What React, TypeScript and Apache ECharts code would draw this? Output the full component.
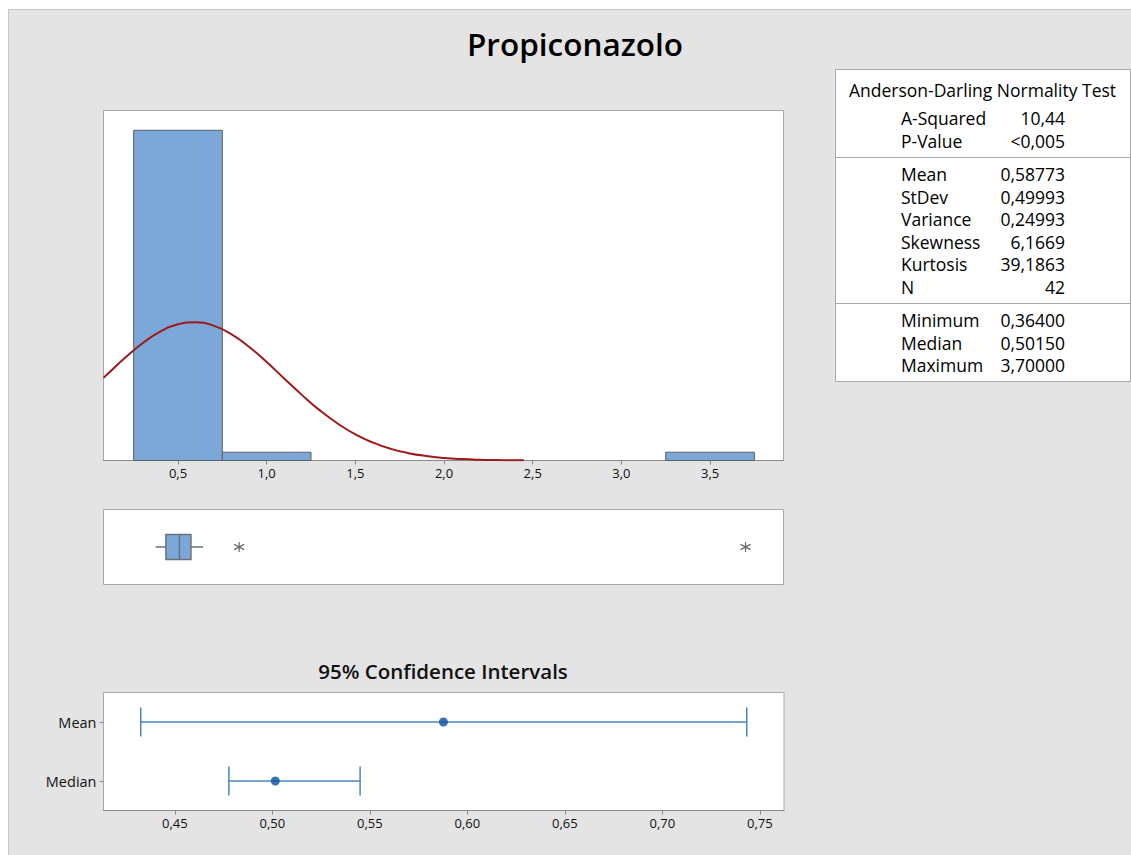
import React, { useEffect, useRef } from "react";
import * as echarts from "echarts";

// ---- data ----
const binStarts = [0.25, 0.75, 3.25];
const binEnds = [0.75, 1.25, 3.75];
const binCounts = [40, 1, 1];

// fitted normal curve (counts scale), read at x positions
const curveX = [0.08, 0.1, 0.2, 0.3, 0.4, 0.5, 0.6, 0.7, 0.8, 0.9, 1.0, 1.1, 1.2, 1.3, 1.4, 1.5, 1.6, 1.7, 1.8, 1.9, 2.0, 2.1, 2.2, 2.3, 2.4, 2.45];
const curveY = [10.01, 10.41, 12.41, 14.2, 15.62, 16.5, 16.75, 16.34, 15.31, 13.79, 11.93, 9.91, 7.92, 6.07, 4.48, 3.17, 2.16, 1.41, 0.89, 0.54, 0.31, 0.17, 0.09, 0.05, 0.02, 0.016];

const histTicks = [0.5, 1.0, 1.5, 2.0, 2.5, 3.0, 3.5];

// boxplot: [whiskerLow, Q1, median, Q3, whiskerHigh]
const boxStats = [0.374, 0.432, 0.508, 0.573, 0.641];
const outliers = [0.845, 3.7];

// confidence intervals
const ciCategories = ["Median", "Mean"];
const ciLower = [0.4777, 0.4325];
const ciUpper = [0.545, 0.7433];
const ciCenter = [0.5015, 0.58773];
const ciTicks = [0.45, 0.5, 0.55, 0.6, 0.65, 0.7, 0.75];

// stats table
const adLabels = ["A-Squared", "P-Value"];
const adValues = ["10,44", "<0,005"];
const momLabels = ["Mean", "StDev", "Variance", "Skewness", "Kurtosis", "N"];
const momValues = ["0,58773", "0,49993", "0,24993", "6,1669", "39,1863", "42"];
const quLabels = ["Minimum", "Median", "Maximum"];
const quValues = ["0,36400", "0,50150", "3,70000"];

const FONT = "'Open Sans', 'Noto Sans', sans-serif";

export default function App() {
  const ref = useRef<HTMLDivElement>(null);
  useEffect(() => {
    if (!ref.current) return;
    const chart = echarts.init(ref.current, undefined, { renderer: "svg" });

    const tableText: any[] = [];
    const addRows = (labels: string[], values: string[], y0: number) => {
      labels.forEach((l, i) => {
        const y = y0 + i * 22.5;
        tableText.push({
          type: "text", x: 901, y, z: 10,
          style: { text: l, fill: "#000", font: `500 17.5px ${FONT}`, textAlign: "left", textVerticalAlign: "middle" },
        });
        tableText.push({
          type: "text", x: 1065, y, z: 10,
          style: { text: values[i], fill: "#000", font: `500 17.5px ${FONT}`, textAlign: "right", textVerticalAlign: "middle" },
        });
      });
    };
    addRows(adLabels, adValues, 118);
    addRows(momLabels, momValues, 174);
    addRows(quLabels, quValues, 320);

    const axisLabelStyle = { color: "#111", fontSize: 13, fontFamily: FONT, fontWeight: 500 };

    chart.setOption({
      animation: false,
      backgroundColor: "#ffffff",
      graphic: [
        { type: "rect", z: -10, shape: { x: 8.5, y: 9.5, width: 1130, height: 850 }, style: { fill: "#e4e4e4", stroke: "#c6c6c6", lineWidth: 1 } },
        { type: "text", x: 575, y: 43, style: { text: "Propiconazolo", fill: "#000", font: `600 31.5px ${FONT}`, textAlign: "center", textVerticalAlign: "middle" } },
        { type: "text", x: 443, y: 671, style: { text: "95% Confidence Intervals", fill: "#111", font: `600 20.5px ${FONT}`, textAlign: "center", textVerticalAlign: "middle" } },
        { type: "rect", z: 5, shape: { x: 835.5, y: 69.5, width: 295, height: 312 }, style: { fill: "#fff", stroke: "#a8a8a8", lineWidth: 1 } },
        { type: "line", z: 6, shape: { x1: 836, y1: 157.5, x2: 1130, y2: 157.5 }, style: { stroke: "#a8a8a8", lineWidth: 1 } },
        { type: "line", z: 6, shape: { x1: 836, y1: 303.5, x2: 1130, y2: 303.5 }, style: { stroke: "#a8a8a8", lineWidth: 1 } },
        { type: "text", x: 982.5, y: 90, z: 10, style: { text: "Anderson-Darling Normality Test", fill: "#000", font: `500 17.5px ${FONT}`, textAlign: "center", textVerticalAlign: "middle" } },
        ...tableText,
      ],
      grid: [
        { left: 103.5, top: 110.5, width: 680, height: 350, show: true, backgroundColor: "#fff", borderColor: "#a8a8a8", borderWidth: 1 },
        { left: 103.5, top: 509.5, width: 680, height: 75, show: true, backgroundColor: "#fff", borderColor: "#a8a8a8", borderWidth: 1 },
        { left: 103.5, top: 692.5, width: 680.5, height: 118, show: true, backgroundColor: "#fff", borderColor: "#a8a8a8", borderWidth: 1 },
      ],
      xAxis: [
        {
          gridIndex: 0, type: "value", min: 0.08, max: 3.914,
          splitLine: { show: false },
          axisLine: { show: true, lineStyle: { color: "#8a8a8a" } },
          axisTick: { show: true, length: 4, lineStyle: { color: "#8a8a8a" }, customValues: histTicks },
          axisLabel: { ...axisLabelStyle, margin: 6, customValues: histTicks, formatter: (v: number) => v.toFixed(1).replace(".", ",") },
        },
        { gridIndex: 1, type: "value", min: 0.08, max: 3.914, show: false, splitLine: { show: false } },
        {
          gridIndex: 2, type: "value", min: 0.4134, max: 0.7624,
          splitLine: { show: false },
          axisLine: { show: true, lineStyle: { color: "#8a8a8a" } },
          axisTick: { show: true, length: 4, lineStyle: { color: "#8a8a8a" }, customValues: ciTicks },
          axisLabel: { ...axisLabelStyle, margin: 6, customValues: ciTicks, formatter: (v: number) => v.toFixed(2).replace(".", ",") },
        },
      ],
      yAxis: [
        { gridIndex: 0, type: "value", min: 0, max: 42.4, show: false, splitLine: { show: false } },
        { gridIndex: 1, type: "category", data: [""], show: false },
        {
          gridIndex: 2, type: "category", data: ciCategories,
          axisLine: { show: false },
          axisTick: { show: true, length: 4, alignWithLabel: true, lineStyle: { color: "#8a8a8a" } },
          axisLabel: { color: "#111", fontSize: 14.5, fontFamily: FONT, fontWeight: 500, margin: 7 },
          splitLine: { show: false },
        },
      ],
      series: [
        {
          type: "custom", xAxisIndex: 0, yAxisIndex: 0, z: 2,
          data: binStarts.map((s, i) => [s, binEnds[i], binCounts[i]]),
          encode: { x: [0, 1], y: 2 },
          renderItem: (params: any, api: any) => {
            const p0 = api.coord([api.value(0), api.value(2)]);
            const p1 = api.coord([api.value(1), 0]);
            return {
              type: "rect",
              shape: { x: p0[0], y: p0[1], width: p1[0] - p0[0], height: p1[1] - p0[1] },
              style: { fill: "#7ba7d9", stroke: "#5c6168", lineWidth: 1 },
            };
          },
        },
        {
          type: "line", xAxisIndex: 0, yAxisIndex: 0, z: 3,
          data: curveX.map((x, i) => [x, curveY[i]]),
          smooth: true, showSymbol: false, symbol: "none",
          lineStyle: { color: "#9e1a1a", width: 2 },
        },
        {
          type: "custom", xAxisIndex: 1, yAxisIndex: 1,
          data: [[...boxStats, 0]],
          encode: { x: [0, 1, 2, 3, 4], y: 5 },
          renderItem: (params: any, api: any) => {
            const cat = api.value(5);
            const pts = [0, 1, 2, 3, 4].map((k) => api.coord([api.value(k), cat]));
            const cy = pts[0][1];
            const h = 25;
            const stroke = { stroke: "#6a7078", lineWidth: 1.5 };
            return {
              type: "group",
              children: [
                { type: "line", shape: { x1: pts[0][0], y1: cy, x2: pts[1][0], y2: cy }, style: stroke },
                { type: "line", shape: { x1: pts[3][0], y1: cy, x2: pts[4][0], y2: cy }, style: stroke },
                { type: "rect", shape: { x: pts[1][0], y: cy - h / 2, width: pts[3][0] - pts[1][0], height: h }, style: { fill: "#7ba7d9", ...stroke } },
                { type: "line", shape: { x1: pts[2][0], y1: cy - h / 2, x2: pts[2][0], y2: cy + h / 2 }, style: stroke },
              ],
            };
          },
        },
        {
          type: "scatter", xAxisIndex: 1, yAxisIndex: 1,
          data: outliers.map((v) => [v, 0]),
          symbol: "path://M0,-5L0,5M-4.5,-2.6L4.5,2.6M-4.5,2.6L4.5,-2.6",
          symbolSize: 10,
          itemStyle: { color: "none", borderColor: "#444", borderWidth: 1.2 },
        },
        {
          type: "custom", xAxisIndex: 2, yAxisIndex: 2,
          data: ciLower.map((l, i) => [l, ciUpper[i], i]),
          encode: { x: [0, 1], y: 2 },
          renderItem: (params: any, api: any) => {
            const a = api.coord([api.value(0), api.value(2)]);
            const b = api.coord([api.value(1), api.value(2)]);
            const h = 14.5;
            const st = { stroke: "#4d84c4", lineWidth: 1.5 };
            return {
              type: "group",
              children: [
                { type: "line", shape: { x1: a[0], y1: a[1], x2: b[0], y2: b[1] }, style: st },
                { type: "line", shape: { x1: a[0], y1: a[1] - h, x2: a[0], y2: a[1] + h }, style: st },
                { type: "line", shape: { x1: b[0], y1: b[1] - h, x2: b[0], y2: b[1] + h }, style: st },
              ],
            };
          },
        },
        {
          type: "scatter", xAxisIndex: 2, yAxisIndex: 2, z: 5,
          data: ciCenter.map((c, i) => [c, i]),
          symbol: "circle", symbolSize: 9,
          itemStyle: { color: "#0a4f9e" },
        },
      ],
    });
    return () => chart.dispose();
  }, []);
  return <div ref={ref} style={{ position: "fixed", left: 0, top: 0, width: 1131, height: 855 }} />;
}
